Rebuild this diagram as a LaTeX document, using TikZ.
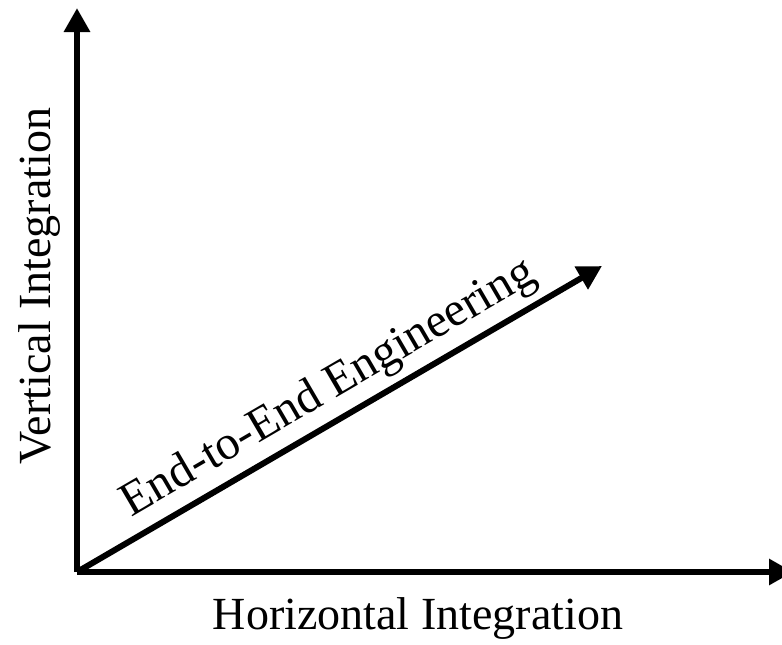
\documentclass[tikz,border=0pt]{standalone}
\usepackage{fontspec}
\setmainfont{Liberation Serif}
\usetikzlibrary{arrows.meta}

\begin{document}
\begin{tikzpicture}[x=0.75pt, y=-0.75pt,
        axis/.style={line width=4.5pt, -{Triangle[length=18pt, width=18.75pt]}},
        axislabel/.style={font=\fontsize{34.5}{40}\selectfont, inner sep=0pt, anchor=base},
    ]
        \useasboundingbox (0,0) rectangle (782,644);

        % Origin and arrow ends
        \coordinate (origin) at (77,572);
        \coordinate (vtop) at (77,8);
        \coordinate (hend) at (793,572);
        \coordinate (dend) at (602,266);

        % Axes
        \draw[axis] (origin) -- (vtop);
        \draw[axis] (origin) -- (hend);

        % Diagonal
        \draw[axis] (origin) -- node[axislabel, font=\fontsize{36}{42}\selectfont, sloped, pos=0.51, yshift=15pt] (diaglabel) {End-to-End Engineering} (dend);

        % Labels
        \node[axislabel, rotate=90] (vlabel) at (50,286) {Vertical Integration};
        \node[axislabel] (hlabel) at (418,629) {Horizontal Integration};
    \end{tikzpicture}
\end{document}
